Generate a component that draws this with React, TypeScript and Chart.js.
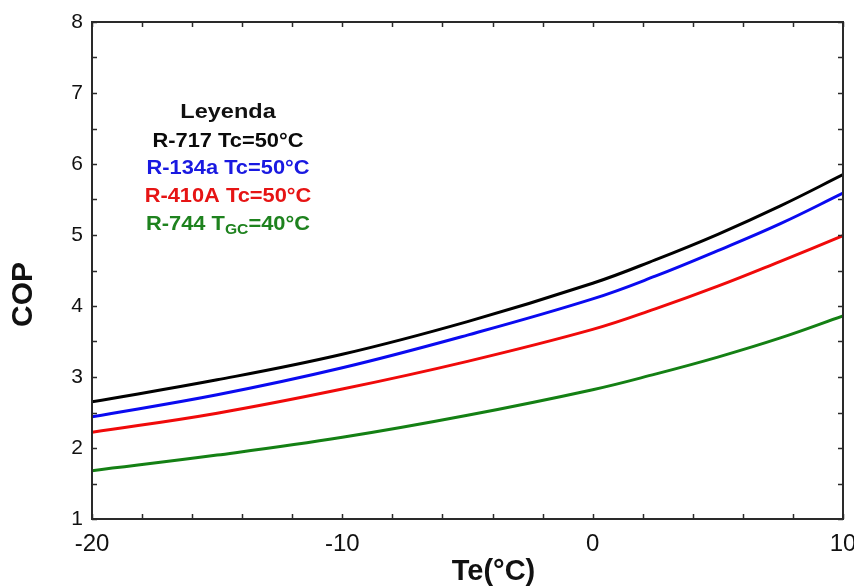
import React, { useEffect, useRef } from "react";
import { Chart, registerables } from "chart.js";

Chart.register(...registerables);

const teValues = [-20, -15, -10, -5, 0, 2.5, 5, 7.5, 10];
const copR717 = [2.65, 2.96, 3.32, 3.78, 4.32, 4.65, 5.01, 5.41, 5.85];
const copR134a = [2.44, 2.75, 3.13, 3.59, 4.1, 4.42, 4.78, 5.16, 5.59];
const copR410A = [2.22, 2.49, 2.83, 3.22, 3.67, 3.96, 4.28, 4.63, 4.99];
const copR744 = [1.68, 1.9, 2.15, 2.46, 2.82, 3.04, 3.28, 3.55, 3.86];

const xTitle = "Te(°C)";
const yTitle = "COP";
const legendTitle = "Leyenda";

const FONT = '"Liberation Sans", Arial, sans-serif';

const seriesDefs = [
  { label: "R-717 Tc=50°C", data: copR717, color: "rgb(0,0,0)", text: "rgb(10,10,10)" },
  { label: "R-134a Tc=50°C", data: copR134a, color: "rgb(10,10,240)", text: "rgb(25,25,225)" },
  { label: "R-410A Tc=50°C", data: copR410A, color: "rgb(240,10,10)", text: "rgb(230,20,20)" },
  { label: "R-744 TGC=40°C", data: copR744, color: "rgb(20,128,20)", text: "rgb(30,130,30)" },
];

const decorPlugin = {
  id: "decor",
  afterDraw(chart: any) {
    const { ctx, chartArea: a, scales } = chart;
    const x = scales.x;
    const y = scales.y;
    ctx.save();
    // frame
    ctx.strokeStyle = "#2a2a2a";
    ctx.lineWidth = 2;
    ctx.strokeRect(a.left, a.top, a.right - a.left, a.bottom - a.top);
    // inward ticks
    ctx.lineWidth = 1.5;
    const seg = (x1: number, y1: number, x2: number, y2: number) => {
      ctx.beginPath();
      ctx.moveTo(x1, y1);
      ctx.lineTo(x2, y2);
      ctx.stroke();
    };
    x.ticks.forEach((t: any) => {
      const px = Math.round(x.getPixelForValue(t.value)) + 0.5;
      seg(px, a.bottom, px, a.bottom - 5);
      seg(px, a.top, px, a.top + 5);
    });
    y.ticks.forEach((t: any) => {
      const py = Math.round(y.getPixelForValue(t.value)) + 0.5;
      seg(a.left, py, a.left + 5, py);
      seg(a.right, py, a.right - 5, py);
    });
    // axis titles
    ctx.fillStyle = "#111";
    ctx.textAlign = "center";
    ctx.textBaseline = "middle";
    ctx.font = `bold 29px ${FONT}`;
    ctx.fillText(xTitle, (a.left + a.right) / 2 + 26, a.bottom + 53);
    ctx.save();
    ctx.translate(24, (a.top + a.bottom) / 2 + 24);
    ctx.rotate(-Math.PI / 2);
    ctx.font = `bold 30px ${FONT}`;
    ctx.fillText(yTitle, 0, 0);
    ctx.restore();

    // legend text block
    const cx = a.left + 136;
    const sx = 1.12;
    const drawScaled = (txt: string, font: string, color: string, cyy: number) => {
      ctx.font = font;
      ctx.fillStyle = color;
      ctx.save();
      ctx.translate(cx, cyy);
      ctx.scale(sx, 1);
      ctx.textAlign = "center";
      ctx.fillText(txt, 0, 0);
      ctx.restore();
    };
    drawScaled(legendTitle, `bold 21px ${FONT}`, "#111", a.top + 90);
    const rowY = [a.top + 120, a.top + 147, a.top + 175, a.top + 203];
    for (let i = 0; i < 3; i++) {
      drawScaled(seriesDefs[i].label, `bold 19.5px ${FONT}`, seriesDefs[i].text, rowY[i]);
    }
    // R-744 with subscript
    const main = `bold 19.5px ${FONT}`;
    const sub = `bold 14px ${FONT}`;
    const p1 = "R-744 T";
    const p2 = "GC";
    const p3 = "=40°C";
    ctx.font = main;
    const w1 = ctx.measureText(p1).width;
    const w3 = ctx.measureText(p3).width;
    ctx.font = sub;
    const w2 = ctx.measureText(p2).width;
    const total = w1 + w2 + w3;
    ctx.save();
    ctx.translate(cx, rowY[3]);
    ctx.scale(sx, 1);
    ctx.textAlign = "left";
    ctx.fillStyle = seriesDefs[3].text;
    let xx = -total / 2;
    ctx.font = main;
    ctx.fillText(p1, xx, 0);
    xx += w1;
    ctx.font = sub;
    ctx.fillText(p2, xx, 5);
    xx += w2;
    ctx.font = main;
    ctx.fillText(p3, xx, 0);
    ctx.restore();

    ctx.restore();
  },
};

export default function App() {
  const ref = useRef<HTMLCanvasElement | null>(null);
  useEffect(() => {
    document.body.style.margin = "0";
    const canvas = ref.current;
    if (!canvas) return;
    const chart = new Chart(canvas, {
      type: "line",
      data: {
        datasets: seriesDefs.map((s) => ({
          label: s.label,
          data: teValues.map((t, i) => ({ x: t, y: s.data[i] })),
          borderColor: s.color,
          backgroundColor: s.color,
          borderWidth: 3,
          pointRadius: 0,
          tension: 0.4,
          fill: false,
        })),
      },
      options: {
        responsive: false,
        animation: false,
        events: [],
        layout: { padding: { top: 22, right: 11, left: 0, bottom: 0 } },
        plugins: {
          legend: { display: false },
          tooltip: { enabled: false },
          title: { display: false },
        },
        scales: {
          x: {
            type: "linear",
            min: -20,
            max: 10,
            grid: { display: false, drawTicks: false },
            border: { display: false },
            ticks: {
              stepSize: 2,
              autoSkip: false,
              maxRotation: 0,
              padding: 11,
              color: "#111",
              font: { family: FONT, size: 24 },
              callback: (v: any) => (Number(v) % 10 === 0 ? String(v) : ""),
            },
            afterFit: (scale: any) => {
              scale.height = 67;
              scale.paddingLeft = 0;
              scale.paddingRight = 0;
            },
          },
          y: {
            type: "linear",
            min: 1,
            max: 8,
            grid: { display: false, drawTicks: false },
            border: { display: false },
            ticks: {
              stepSize: 0.5,
              autoSkip: false,
              padding: 9,
              color: "#111",
              font: { family: FONT, size: 21 },
              callback: (v: any) => (Number.isInteger(Number(v)) ? String(v) : ""),
            },
            afterFit: (scale: any) => {
              scale.width = 92;
              scale.paddingTop = 0;
              scale.paddingBottom = 0;
            },
          },
        },
      },
      plugins: [decorPlugin],
    } as any);
    return () => chart.destroy();
  }, []);
  return (
    <div style={{ width: 854, height: 586, background: "#fff" }}>
      <canvas ref={ref} width={854} height={586} style={{ display: "block", width: 854, height: 586 }} />
    </div>
  );
}
